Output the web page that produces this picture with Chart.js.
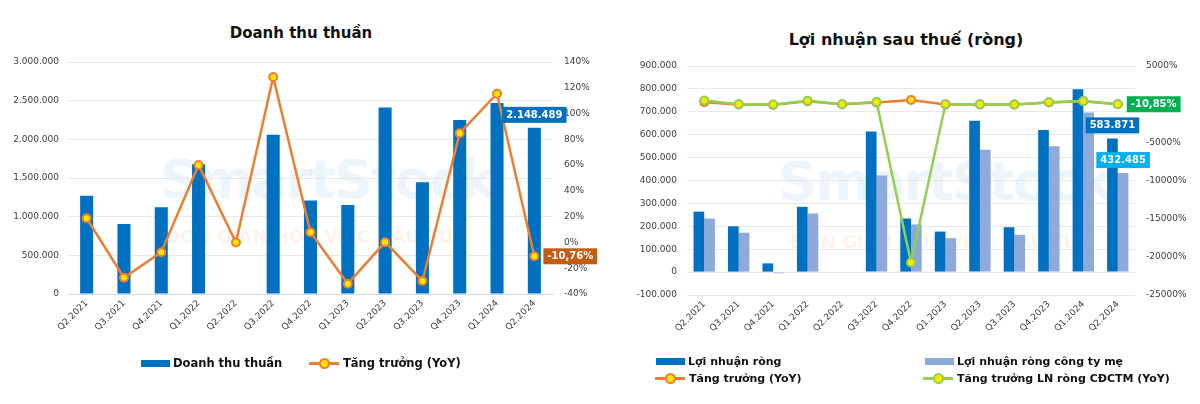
<!DOCTYPE html>
<html>
<head>
<meta charset="utf-8">
<script src="https://cdn.jsdelivr.net/npm/chart.js@4"></script>
<style>
  body { margin: 0; width: 1200px; height: 404px; background: #fff; position: relative; overflow: hidden; font-family: "DejaVu Sans", sans-serif; }
  .box { position: absolute; top: 0; width: 600px; height: 404px; }
  .title { position: absolute; font-weight: bold; color: #111; white-space: nowrap; }
  .wm { position: absolute; font-weight: bold; white-space: nowrap; }
  .leg { position: absolute; font-weight: bold; color: #111; white-space: nowrap; display: flex; align-items: center; }
  .rect { display: inline-block; width: 29px; height: 7px; margin-right: 3px; }
  .ln { display: inline-block; position: relative; width: 30px; height: 3px; margin-right: 4px; }
  .ln::after { content: ""; position: absolute; left: 10px; top: -4px; width: 7px; height: 7px; border-radius: 50%; background: #ffe600; border: 2px solid var(--c); }
</style>
</head>
<body>
<!-- watermark -->
<div class="wm" style="left:160px;top:148px;font-size:54px;letter-spacing:-2px;color:rgba(0,112,192,0.07)">SmartStock</div>
<div class="wm" style="left:165px;top:226px;font-size:18px;color:rgba(237,125,49,0.09)">ĐƠN GIẢN HÓA VIỆC ĐẦU TƯ</div>
<div class="wm" style="left:778px;top:150px;font-size:54px;letter-spacing:-2px;color:rgba(0,112,192,0.07)">SmartStock</div>
<div class="wm" style="left:790px;top:231px;font-size:18px;color:rgba(237,125,49,0.09)">ĐƠN GIẢN HÓA VIỆC ĐẦU TƯ</div>

<div class="title" style="left:0;width:602px;text-align:center;top:24px;font-size:15px">Doanh thu thuần</div>
<div class="title" style="left:600px;width:612px;text-align:center;top:30px;font-size:16px">Lợi nhuận sau thuế (ròng)</div>

<div class="box" style="left:0"><canvas id="dtChart" width="600" height="404"></canvas></div>
<div class="box" style="left:600px"><canvas id="lnChart" width="600" height="404"></canvas></div>

<div class="leg" style="left:141px;top:356px;font-size:11.5px"><span class="rect" style="background:#0070c0"></span>Doanh thu thuần</div>
<div class="leg" style="left:309px;top:356px;font-size:11.5px"><span class="ln" style="background:#ed7d31;--c:#ed7d31"></span>Tăng trưởng (YoY)</div>

<div class="leg" style="left:656px;top:355px;font-size:11px"><span class="rect" style="background:#0070c0"></span>Lợi nhuận ròng</div>
<div class="leg" style="left:925px;top:355px;font-size:11px"><span class="rect" style="background:#8eaadb"></span>Lợi nhuận ròng công ty mẹ</div>
<div class="leg" style="left:655px;top:372px;font-size:11px"><span class="ln" style="background:#ed7d31;--c:#ed7d31"></span>Tăng trưởng (YoY)</div>
<div class="leg" style="left:923px;top:372px;font-size:11px"><span class="ln" style="background:#92d050;--c:#92d050"></span>Tăng trưởng LN ròng CĐCTM (YoY)</div>

<script>
// Dữ liệu
const quy = ['Q2.2021', 'Q3.2021', 'Q4.2021', 'Q1.2022', 'Q2.2022', 'Q3.2022', 'Q4.2022',
             'Q1.2023', 'Q2.2023', 'Q3.2023', 'Q4.2023', 'Q1.2024', 'Q2.2024'];

const doanhThu = [1269000, 906000, 1122000, 1679000, null, 2059000, 1208000,
                  1152000, 2412000, 1446000, 2249000, 2469000, 2148489];
const tangTruongDT = [18.8, -27.3, -7.6, 60.0, 0, 128.4, 7.9, -32.0, 0.2, -29.9, 84.8, 115.4, -10.76];

const loiNhuanRong = [264000, 200000, 38000, 285000, null, 614000, 234000,
                      177000, 661000, 196000, 621000, 799000, 583871];
const loiNhuanCtyMe = [234000, 172000, -5000, 256000, null, 422000, 208000,
                       148000, 534000, 163000, 550000, 697000, 432485];
const tangTruongLN = [250, -30, -90, 390, 0, 220, 560, -30, -30, -60, 220, 390, -10.85];
const tangTruongCDCTM = [480, 0, -60, 440, 0, 300, -20740, 0, 0, -40, 260, 400, -10.85];

// Trục
const dtTicks = { min: 0, max: 3000000, step: 500000 };
const dtPctTicks = { min: -40, max: 140, step: 20 };
const lnTicks = { min: -100000, max: 900000, step: 100000 };
const lnPctTicks = { min: -25000, max: 5000, step: 5000 };

const tickFont = { family: 'DejaVu Sans', size: 9 };
const tickColor = '#404040';
const gridColor = '#e8e8e8';

function soVN(v) {
    return Math.round(v).toString().replace(/\B(?=(\d{3})+(?!\d))/g, '.');
}

// Nhãn cuối chuỗi (hộp màu)
const nhanCuoi = {
    id: 'nhanCuoi',
    afterDatasetsDraw(chart, args, opts) {
        const ctx = chart.ctx;
        (opts.items || []).forEach(it => {
            const meta = chart.getDatasetMeta(it.ds);
            const el = meta.data[meta.data.length - 1];
            ctx.save();
            ctx.font = 'bold 10px "DejaVu Sans"';
            const w = ctx.measureText(it.text).width + 8;
            const h = 16;
            let x, y;
            if (it.kieu === 'bar') {
                x = el.x - w / 2;
                y = el.y - 5 - h;
            } else {
                x = el.x + 9;
                y = el.y - h / 2;
            }
            ctx.fillStyle = it.bg;
            ctx.fillRect(x, y, w, h);
            ctx.fillStyle = '#fff';
            ctx.textBaseline = 'middle';
            ctx.textAlign = 'center';
            ctx.fillText(it.text, x + w / 2, y + h / 2 + 0.5);
            ctx.restore();
        });
    }
};

function xScale(showBorder) {
    return {
        grid: { display: false, drawTicks: false },
        border: { display: showBorder, color: '#d9d9d9' },
        ticks: { maxRotation: 45, minRotation: 45, font: tickFont, color: tickColor, padding: 4, autoSkip: false },
        afterFit(s) { s.height = 50; }
    };
}

function yScale(pos, t, fmt, width, pad, grid) {
    return {
        position: pos,
        min: t.min, max: t.max,
        grid: { display: grid, color: gridColor, drawTicks: false },
        border: { display: false },
        ticks: { stepSize: t.step, font: tickFont, color: tickColor, padding: pad, callback: fmt },
        afterFit(s) { s.width = width; }
    };
}

function lineDs(label, data, color, axis, order) {
    return {
        type: 'line', label, data, yAxisID: axis, order,
        borderColor: color, borderWidth: 2.5, tension: 0,
        pointRadius: 4, pointBorderWidth: 2, pointBackgroundColor: '#ffe600', pointBorderColor: color,
        spanGaps: true
    };
}

// Biểu đồ doanh thu
new Chart(document.getElementById('dtChart'), {
    type: 'bar',
    data: {
        labels: quy,
        datasets: [
            lineDs('Tăng trưởng (YoY)', tangTruongDT, '#ed7d31', 'y1', 1),
            {
                label: 'Doanh thu thuần', data: doanhThu, yAxisID: 'y', order: 2,
                backgroundColor: '#0070c0', categoryPercentage: 0.35, barPercentage: 1
            }
        ]
    },
    options: {
        responsive: false,
        animation: false,
        layout: { padding: { top: 62, bottom: 60, left: 0, right: 0 } },
        plugins: {
            legend: { display: false },
            tooltip: { enabled: false },
            nhanCuoi: {
                items: [
                    { ds: 1, kieu: 'bar', text: '2.148.489', bg: '#0070c0' },
                    { ds: 0, kieu: 'line', text: '-10,76%', bg: '#c55a11' }
                ]
            }
        },
        scales: {
            x: xScale(true),
            y: yScale('left', dtTicks, v => soVN(v), 68, 9, true),
            y1: yScale('right', dtPctTicks, v => v + '%', 47, 11, false)
        }
    },
    plugins: [nhanCuoi]
});

// Biểu đồ lợi nhuận
new Chart(document.getElementById('lnChart'), {
    type: 'bar',
    data: {
        labels: quy,
        datasets: [
            lineDs('Tăng trưởng LN ròng CĐCTM (YoY)', tangTruongCDCTM, '#92d050', 'y1', 0),
            lineDs('Tăng trưởng (YoY)', tangTruongLN, '#ed7d31', 'y1', 1),
            {
                label: 'Lợi nhuận ròng', data: loiNhuanRong, yAxisID: 'y', order: 2,
                backgroundColor: '#0070c0', categoryPercentage: 0.62, barPercentage: 1
            },
            {
                label: 'Lợi nhuận ròng công ty mẹ', data: loiNhuanCtyMe, yAxisID: 'y', order: 3,
                backgroundColor: '#8eaadb', categoryPercentage: 0.62, barPercentage: 1
            }
        ]
    },
    options: {
        responsive: false,
        animation: false,
        layout: { padding: { top: 66, bottom: 59, left: 0, right: 0 } },
        plugins: {
            legend: { display: false },
            tooltip: { enabled: false },
            nhanCuoi: {
                items: [
                    { ds: 2, kieu: 'bar', text: '583.871', bg: '#0070c0' },
                    { ds: 3, kieu: 'bar', text: '432.485', bg: '#00b0f0' },
                    { ds: 0, kieu: 'line', text: '-10,85%', bg: '#00b050' }
                ]
            }
        },
        scales: {
            x: xScale(false),
            y: yScale('left', lnTicks, v => soVN(v), 87, 10, true),
            y1: yScale('right', lnPctTicks, v => v + '%', 65, 11, false)
        }
    },
    plugins: [nhanCuoi]
});
</script>
</body>
</html>
